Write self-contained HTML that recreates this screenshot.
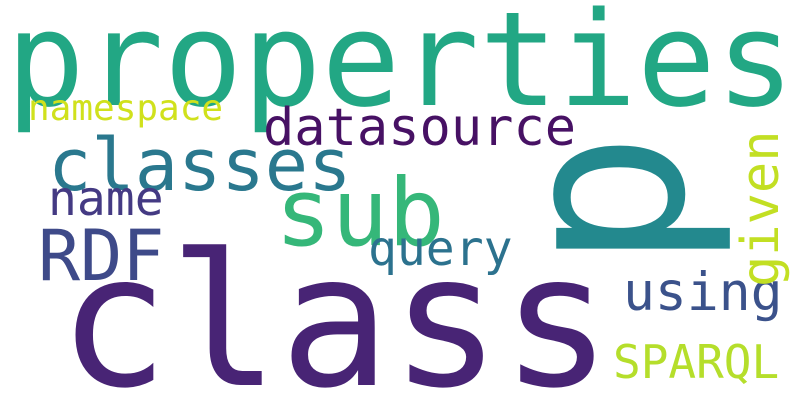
<!DOCTYPE html>
<html><head><meta charset="utf-8"><style>
html,body{margin:0;padding:0;background:#fff;overflow:hidden;width:800px;height:400px;}
svg{display:block;}
text{font-family:"DejaVu Sans Mono","Liberation Mono",monospace;}
</style></head><body>
<svg width="800" height="400" viewBox="0 0 800 400">
<rect width="800" height="400" fill="#fff"/>
<text x="6" y="105" font-size="131" fill="#22a784">properties</text>
<text x="58" y="385" font-size="184" fill="#482475">class</text>
<text transform="translate(682,270) rotate(-90)" font-size="230" fill="#23898e">p</text>
<text x="275" y="245" font-size="94" fill="#35b779">sub</text>
<text x="48" y="190" font-size="72" fill="#2a788e">classes</text>
<text x="263" y="145" font-size="52" fill="#471164">datasource</text>
<text x="38" y="280" font-size="70" fill="#3e4a89">RDF</text>
<text x="48" y="215" font-size="48" fill="#443a83">name</text>
<text x="28" y="120" font-size="36" fill="#d0e11c">namespace</text>
<text x="368" y="265" font-size="48" fill="#2c728e">query</text>
<text x="623" y="310" font-size="53" fill="#3b528b">using</text>
<text x="613" y="378" font-size="46" fill="#b5de2b">SPARQL</text>
<text transform="translate(778,287) rotate(-90)" font-size="52" fill="#c2df23">given</text>
</svg>
</body></html>
